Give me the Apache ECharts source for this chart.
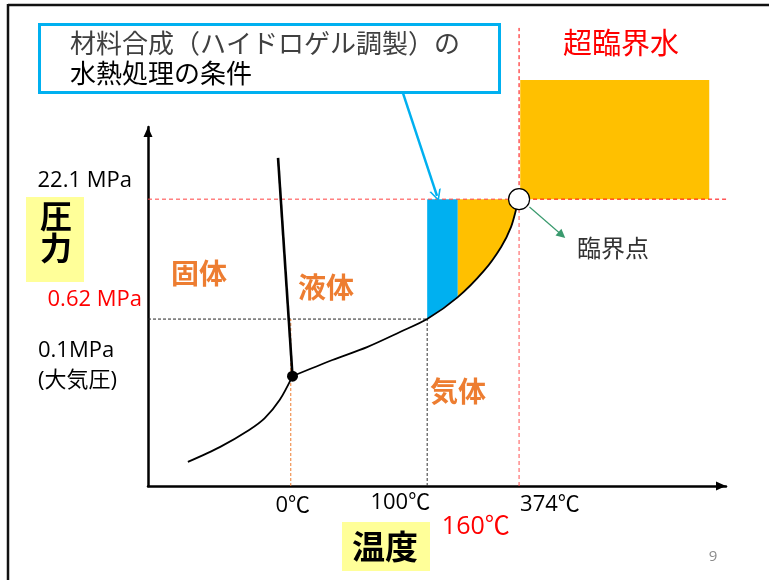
<!DOCTYPE html>
<html>
<head>
<meta charset="utf-8">
<script src="https://cdn.jsdelivr.net/npm/echarts@6/dist/echarts.min.js"></script>
<style>
  html, body { margin: 0; padding: 0; background: #fff; }
  #chart { width: 769px; height: 580px; }
</style>
</head>
<body>
<div id="chart"></div>
<script>
// Schematic phase diagram of water. Both axes run 0–100 in diagram units (not to scale).

// temperature ticks (diagram x units)
const tempTickLabels = ['0℃', '100℃', '374℃'];
const tempTickValues = [24.7, 48.3, 64.2];
const hydroTempLabel = '160℃';
const hydroTempValue = 53.6;

// pressure ticks (diagram y units)
const pressureTickLabels = ['22.1 MPa', '0.62 MPa'];
const pressureTickValues = [79.9, 46.5];
const atmLabelLines = ['0.1MPa', '(大気圧)'];

const triplePoint = [25.0, 30.6];
const criticalPoint = [64.2, 79.9];

// solid–gas boundary
const sublimationX = [6.9, 12.5, 17.5, 20.2, 22.8, 25.0];
const sublimationY = [6.7, 10.9, 15.6, 18.9, 24.0, 30.6];

// liquid–gas boundary, triple point up to the critical point
const vaporX = [25.0, 31.9, 37.9, 43.6, 48.3, 53.6, 58.1, 61.1, 62.8, 63.8, 64.2];
const vaporY = [30.6, 35.1, 38.7, 42.9, 46.5, 52.6, 59.9, 66.6, 72.1, 77.7, 79.9];

// solid–liquid boundary
const meltingX = [25.0, 22.5];
const meltingY = [30.6, 91.4];

// supercritical water box
const superX = [64.4, 97.1];
const superY = [79.9, 113.1];

// upper ends of the guide lines
const axisTopValue = 127.6;
const rightEdgeValue = 107.4;

// callout arrows [from, to]
const calloutArrow = [[44.1, 109.5], [50.0, 80.8]];
const criticalArrow = [[66.0, 77.7], [71.6, 69.9]];

const phaseNames = ['固体', '液体', '気体'];
const titleSuper = '超臨界水';
const criticalName = '臨界点';
const calloutLines = ['材料合成（ハイドロゲル調製）の', '水熱処理の条件'];
const axisNames = ['圧力', '温度'];
const pageNumber = '9';

// ---------------------------------------------------------------
const pts = (xs, ys) => xs.map((x, i) => [x, ys[i]]);
const vaporPts = pts(vaporX, vaporY);

// region bounded above by the 22.1 MPa level and below by the vapour curve
function regionUnderLevel(x0, x1) {
  const top = criticalPoint[1];
  const lower = vaporPts.filter(p => p[0] >= x0 - 1e-9 && p[0] <= x1 + 1e-9).reverse();
  return [[x0, top], [x1, top]].concat(lower);
}
const blueRegion = regionUnderLevel(tempTickValues[1], hydroTempValue);
const orangeRegion = regionUnderLevel(hydroTempValue, criticalPoint[0]);

const CJK = '"Noto Sans CJK JP", sans-serif';
const LAT = '"Open Sans", "Noto Sans CJK JP", sans-serif';

function polygonSeries(poly, color) {
  return {
    type: 'custom', silent: true, clip: false, z: 1,
    data: [0],
    renderItem: (params, api) => ({
      type: 'polygon',
      shape: { points: poly.map(p => api.coord(p)) },
      style: { fill: color }
    })
  };
}

function guide(a, b, color, width, dash) {
  return {
    type: 'line', silent: true, clip: false, symbol: 'none', z: 2,
    data: [a, b],
    lineStyle: { color: color, width: width || 1, type: dash || [4, 3] }
  };
}

const chevron = 'path://M10,0 L20,18 L17,18 L10,5.5 L3,18 L0,18 Z';

const chart = echarts.init(document.getElementById('chart'));
chart.setOption({
  animation: false,
  grid: { left: 148, right: 43, top: 127, bottom: 94 },
  xAxis: {
    type: 'value', min: 0, max: 100,
    axisLine: { show: true, lineStyle: { color: '#000', width: 2.5 },
                symbol: ['none', 'triangle'], symbolSize: [9, 10], symbolOffset: [0, -5] },
    axisTick: { show: false }, axisLabel: { show: false }, splitLine: { show: false }
  },
  yAxis: {
    type: 'value', min: 0, max: 100,
    axisLine: { show: true, lineStyle: { color: '#000', width: 2.5 },
                symbol: ['none', 'triangle'], symbolSize: [9, 10], symbolOffset: [0, -5] },
    axisTick: { show: false }, axisLabel: { show: false }, splitLine: { show: false }
  },
  series: [
    // supercritical region
    {
      type: 'custom', silent: true, clip: false, z: 1, data: [0],
      renderItem: (params, api) => {
        const p0 = api.coord([superX[0], superY[1]]);
        const p1 = api.coord([superX[1], superY[0]]);
        return { type: 'rect', shape: { x: p0[0], y: p0[1], width: p1[0] - p0[0], height: p1[1] - p0[1] },
                 style: { fill: '#FFC000' } };
      }
    },
    polygonSeries(blueRegion, '#00B0F0'),
    polygonSeries(orangeRegion, '#FFC000'),

    // guide lines
    guide([0, pressureTickValues[0]], [criticalPoint[0], pressureTickValues[0]], '#ff4040'),
    guide([criticalPoint[0], pressureTickValues[0]], [rightEdgeValue, pressureTickValues[0]], '#ff0000'),
    guide([0, pressureTickValues[1]], [tempTickValues[1], pressureTickValues[1]], '#222', 1, [3, 2]),
    guide([tempTickValues[0], 0], [tempTickValues[0], pressureTickValues[1]], '#ED7D31', 1, [3, 2]),
    guide([tempTickValues[1], 0], [tempTickValues[1], pressureTickValues[1]], '#333', 1, [3, 2]),
    guide([tempTickValues[2], 0], [tempTickValues[2], criticalPoint[1]], '#ff5050'),
    guide([tempTickValues[2], criticalPoint[1]], [tempTickValues[2], axisTopValue], '#ff0000'),

    // phase boundaries
    {
      type: 'line', silent: true, clip: false, symbol: 'none', smooth: 0.3, z: 3,
      data: pts(sublimationX, sublimationY), lineStyle: { color: '#000', width: 1.8 }
    },
    {
      type: 'line', silent: true, clip: false, symbol: 'none', smooth: 0.3, z: 3,
      data: vaporPts, lineStyle: { color: '#000', width: 1.8 }
    },
    {
      type: 'line', silent: true, clip: false, symbol: 'none', z: 3,
      data: pts(meltingX, meltingY), lineStyle: { color: '#000', width: 2.6 }
    },

    // triple point and critical point
    {
      type: 'scatter', silent: true, clip: false, z: 5, symbolSize: 11,
      itemStyle: { color: '#000', opacity: 1 }, data: [triplePoint]
    },
    {
      type: 'scatter', silent: true, clip: false, z: 5, symbolSize: 21,
      itemStyle: { color: '#fff', borderColor: '#000', borderWidth: 1.2, opacity: 1 }, data: [criticalPoint]
    },

    // arrows
    {
      type: 'lines', coordinateSystem: 'cartesian2d', silent: true, clip: false, z: 6,
      symbol: ['none', chevron], symbolSize: [13, 12],
      lineStyle: { color: '#00B0F0', width: 2.5, opacity: 1, curveness: 0 },
      data: [{ coords: calloutArrow }]
    },
    {
      type: 'lines', coordinateSystem: 'cartesian2d', silent: true, clip: false, z: 6,
      symbol: ['none', 'triangle'], symbolSize: [7, 9],
      lineStyle: { color: '#3A9A6E', width: 1.2, opacity: 1, curveness: 0 },
      data: [{ coords: criticalArrow }]
    },

    // temperature tick labels
    {
      type: 'scatter', silent: true, clip: false, z: 6, symbolSize: 0,
      itemStyle: { color: '#000', opacity: 1 },
      label: { show: true, position: 'inside', color: '#000', fontSize: 22, fontFamily: LAT,
               textBorderWidth: 0, formatter: p => p.name },
      data: [
        { name: tempTickLabels[0], value: [tempTickValues[0], 0], label: { align: 'center', offset: [2, 20] } },
        { name: tempTickLabels[1], value: [tempTickValues[1], 0], label: { align: 'right', offset: [3, 17] } },
        { name: tempTickLabels[2], value: [tempTickValues[2], 0], label: { align: 'left', offset: [1, 19] } },
        { name: hydroTempLabel, value: [hydroTempValue, 0],
          label: { align: 'center', offset: [18, 41], color: '#ff0000', fontSize: 25 } }
      ]
    },
    // pressure tick labels
    {
      type: 'scatter', silent: true, clip: false, z: 6, symbolSize: 0,
      itemStyle: { color: '#000', opacity: 1 },
      label: { show: true, position: 'inside', color: '#000', fontSize: 22, fontFamily: LAT,
               textBorderWidth: 0, align: 'right', formatter: p => p.name },
      data: [
        { name: pressureTickLabels[0], value: [0, pressureTickValues[0]], label: { offset: [-16, -18] } },
        { name: pressureTickLabels[1], value: [0, pressureTickValues[1]], label: { offset: [-6, -19], color: '#ff0000' } }
      ]
    }
  ],
  graphic: [
    // slide frame
    { type: 'line', shape: { x1: 8, y1: 5, x2: 769, y2: 5 }, style: { stroke: '#111', lineWidth: 2.5 }, silent: true },
    { type: 'line', shape: { x1: 8, y1: 4, x2: 8, y2: 580 }, style: { stroke: '#111', lineWidth: 2.5 }, silent: true },

    // callout box
    { type: 'rect', shape: { x: 39.5, y: 24.5, width: 460, height: 68 },
      style: { fill: '#fff', stroke: '#00B0F0', lineWidth: 3 }, z: 10, silent: true },
    { type: 'text', x: 70, y: 43, z: 11, silent: true,
      style: { text: calloutLines[0], fill: '#404040', font: '26px ' + CJK, textVerticalAlign: 'middle' } },
    { type: 'text', x: 70, y: 73, z: 11, silent: true,
      style: { text: calloutLines[1], fill: '#000', font: '26px ' + CJK, textVerticalAlign: 'middle' } },

    { type: 'text', x: 621, y: 43, silent: true,
      style: { text: titleSuper, fill: '#ff0000', font: '29px ' + CJK, textAlign: 'center', textVerticalAlign: 'middle' } },
    { type: 'text', x: 577, y: 248, silent: true,
      style: { text: criticalName, fill: '#333', font: '24px ' + CJK, textVerticalAlign: 'middle' } },

    // phase names
    { type: 'text', x: 171, y: 273, silent: true,
      style: { text: phaseNames[0], fill: '#ED7D31', font: 'bold 28px ' + CJK, textVerticalAlign: 'middle' } },
    { type: 'text', x: 298, y: 287, silent: true,
      style: { text: phaseNames[1], fill: '#ED7D31', font: 'bold 28px ' + CJK, textVerticalAlign: 'middle' } },
    { type: 'text', x: 430, y: 391, silent: true,
      style: { text: phaseNames[2], fill: '#ED7D31', font: 'bold 28px ' + CJK, textVerticalAlign: 'middle' } },

    // atmospheric pressure note
    { type: 'text', x: 38, y: 351, silent: true,
      style: { text: atmLabelLines[0], fill: '#000', font: '22px ' + LAT, textVerticalAlign: 'middle' } },
    { type: 'text', x: 38, y: 381, silent: true,
      style: { text: atmLabelLines[1], fill: '#000', font: '22px ' + LAT, textVerticalAlign: 'middle' } },

    // axis names on yellow highlight
    { type: 'rect', shape: { x: 26, y: 197, width: 58, height: 85 }, style: { fill: '#FFFF99' }, silent: true },
    { type: 'text', x: 56, y: 216, silent: true,
      style: { text: axisNames[0][0], fill: '#000', font: 'bold 32px ' + CJK, textAlign: 'center', textVerticalAlign: 'middle' } },
    { type: 'text', x: 56, y: 248, silent: true,
      style: { text: axisNames[0][1], fill: '#000', font: 'bold 32px ' + CJK, textAlign: 'center', textVerticalAlign: 'middle' } },
    { type: 'rect', shape: { x: 342, y: 522, width: 88, height: 49 }, style: { fill: '#FFFF99' }, silent: true },
    { type: 'text', x: 385, y: 546, silent: true,
      style: { text: axisNames[1], fill: '#000', font: 'bold 33px ' + CJK, textAlign: 'center', textVerticalAlign: 'middle' } },

    { type: 'text', x: 713, y: 557, silent: true,
      style: { text: pageNumber, fill: '#8c8c8c', font: '15px ' + LAT, textAlign: 'center', textVerticalAlign: 'middle' } }
  ]
});
</script>
</body>
</html>
